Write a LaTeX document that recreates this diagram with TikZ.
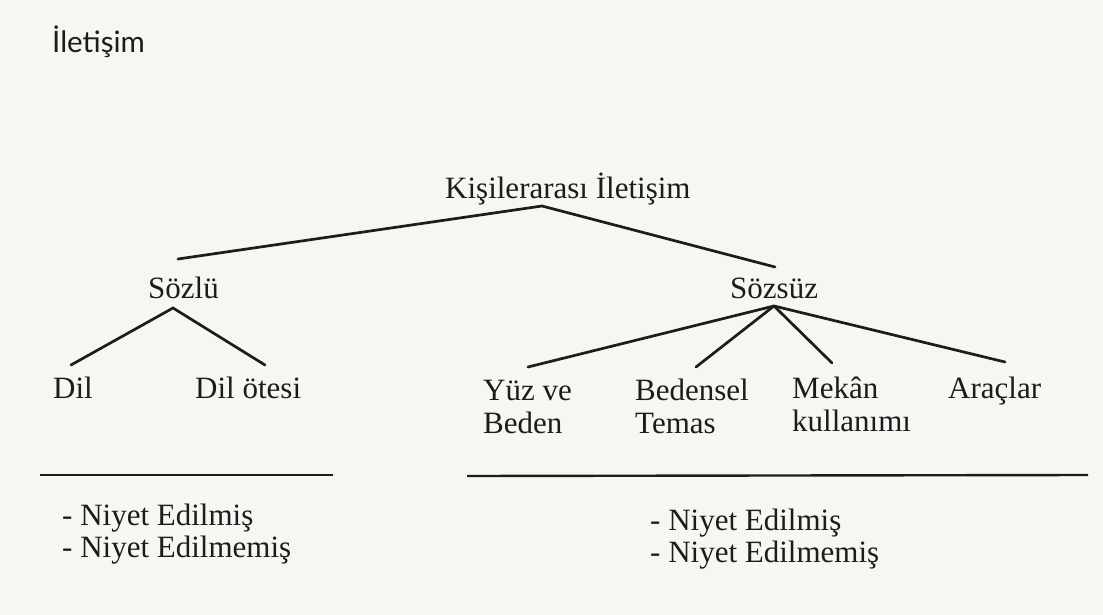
\documentclass[tikz,border=0pt]{standalone}
\usepackage{fontspec}
\setmainfont{Liberation Serif}
\newfontfamily\titlefont{Lato}
\definecolor{paper}{RGB}{245,247,243}
\definecolor{ink}{RGB}{28,28,28}
\begin{document}
\begin{tikzpicture}[x=1pt,y=-1pt,
  lbl/.style={anchor=base west, inner sep=0pt, text=ink, align=left,
              font=\fontsize{31}{33}\selectfont},
  branch/.style={draw=ink, line width=2.7pt, line cap=round},
  rule/.style={draw=ink, line width=2.4pt}]
\fill[paper] (0,0) rectangle (1103,615);
\useasboundingbox (0,0) rectangle (1103,615);

% labels (multi-line labels are placed by the baseline of their last line)
\node[lbl, font=\titlefont\fontsize{29.5}{31}\selectfont] (title) at (52,53) {İletişim};
\node[lbl] (kisi) at (445,198) {Kişilerarası İletişim};
\node[lbl] (sozlu) at (148,298) {Sözlü};
\node[lbl] (sozsuz) at (730,298) {Sözsüz};
\node[lbl] (dil) at (53,398) {Dil};
\node[lbl] (dilotesi) at (195,398) {Dil ötesi};
\node[lbl] (yuz) at (483,433) {Yüz ve\\Beden};
\node[lbl] (beden) at (635,433) {Bedensel\\Temas};
\node[lbl] (mekan) at (792,431) {Mekân\\kullanımı};
\node[lbl] (arac) at (948,398) {Araçlar};
\node[lbl, font=\fontsize{31}{32}\selectfont] (sozluniyet) at (62,557) {- Niyet Edilmiş\\- Niyet Edilmemiş};
\node[lbl, font=\fontsize{31}{32}\selectfont] (sozsuzniyet) at (650,562) {- Niyet Edilmiş\\- Niyet Edilmemiş};

% branch points
\coordinate (kisiTop) at (542,206);
\coordinate (kisiL) at (178,259);
\coordinate (kisiR) at (775,267);
\coordinate (sozluTop) at (173,308);
\coordinate (dilEnd) at (71,365);
\coordinate (dilotesiEnd) at (265,365);
\coordinate (sozsuzTop) at (774,306);
\coordinate (yuzEnd) at (528,367);
\coordinate (bedenEnd) at (696,367);
\coordinate (mekanEnd) at (832,363);
\coordinate (aracEnd) at (1005,362);

% tree
\draw[branch] (kisiL) -- (kisiTop) -- (kisiR);
\draw[branch] (dilEnd) -- (sozluTop) -- (dilotesiEnd);
\draw[branch] (sozsuzTop) -- (yuzEnd);
\draw[branch] (sozsuzTop) -- (bedenEnd);
\draw[branch] (sozsuzTop) -- (mekanEnd);
\draw[branch] (sozsuzTop) -- (aracEnd);

% separator rules
\coordinate (ruleLa) at (40,475);
\coordinate (ruleLb) at (333,475);
\coordinate (ruleRa) at (467,476);
\coordinate (ruleRb) at (1088,475);
\draw[rule] (ruleLa) -- (ruleLb);
\draw[rule] (ruleRa) -- (ruleRb);
\end{tikzpicture}
\end{document}
